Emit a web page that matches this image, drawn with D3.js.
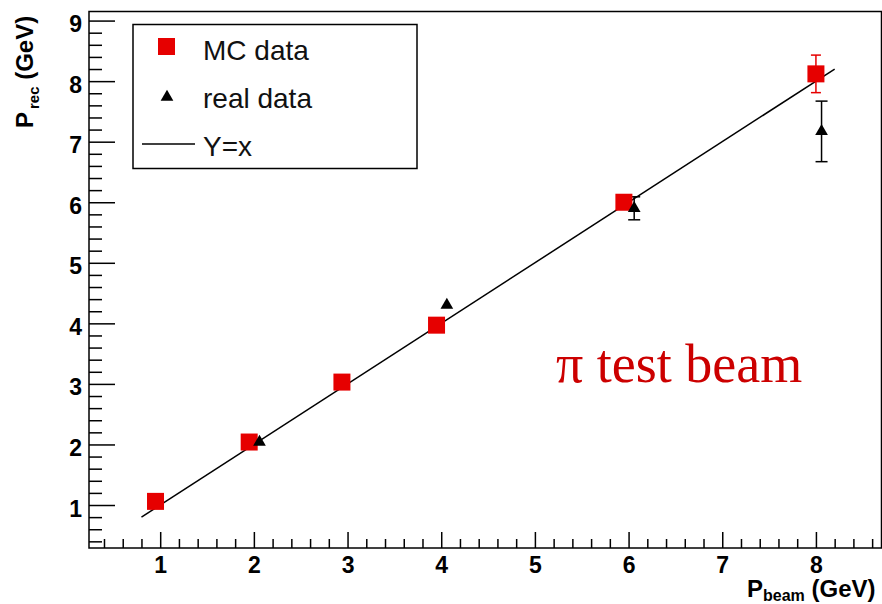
<!DOCTYPE html>
<html>
<head>
<meta charset="utf-8">
<script src="https://cdn.jsdelivr.net/npm/d3@7"></script>
<style>
  body { margin: 0; background: #fff; }
  svg { display: block; }
</style>
</head>
<body>
<div id="app"></div>
<script>
// MC data (red squares)
const mcBeam = [0.95, 1.95, 2.94, 3.95, 5.95, 8.0];
const mcRec = [1.06, 2.04, 3.03, 3.97, 6.0, 8.12];
const mcErr = [0.05, 0.06, 0.07, 0.08, 0.12, 0.31];

// real data (black triangles)
const realBeam = [2.06, 4.06, 6.06, 8.06];
const realRec = [2.04, 4.3, 5.9, 7.17];
const realErr = [0.02, 0.02, 0.19, 0.5];

// Y = x reference line
const lineRange = [0.8, 8.2];

const xTickValues = [1, 2, 3, 4, 5, 6, 7, 8];
const yTickValues = [1, 2, 3, 4, 5, 6, 7, 8, 9];

const W = 882, H = 604;
const plotLeft = 89, plotRight = 881.5, plotTop = 11.5, plotBottom = 548;

const svg = d3.select('#app')
  .append('svg')
  .attr('width', W)
  .attr('height', H);

const x = d3.scaleLinear().domain([0.24, 8.7]).range([plotLeft, plotRight]);
const y = d3.scaleLinear().domain([0.29, 9.15]).range([plotBottom, plotTop]);

const sans = '"Liberation Sans", Arial, Helvetica, sans-serif';

// frame
svg.append('rect')
  .attr('x', plotLeft).attr('y', plotTop)
  .attr('width', plotRight - plotLeft).attr('height', plotBottom - plotTop)
  .attr('fill', 'none').attr('stroke', '#000').attr('stroke-width', 1.5);

// minor ticks
const xMinor = d3.range(0.4, 8.7, 0.2).filter((v) => Math.abs(v - Math.round(v)) > 0.01);
const yMinor = d3.range(0.4, 9.1, 0.2).filter((v) => Math.abs(v - Math.round(v)) > 0.01);

const styleAxis = (g) => {
  g.select('.domain').remove();
  g.selectAll('.tick line').attr('stroke', '#000').attr('stroke-width', 1.5);
};

svg.append('g')
  .attr('transform', `translate(0,${plotBottom})`)
  .call(d3.axisBottom(x).tickValues(xMinor).tickSize(-9).tickFormat(''))
  .call(styleAxis);

svg.append('g')
  .attr('transform', `translate(${plotLeft},0)`)
  .call(d3.axisLeft(y).tickValues(yMinor).tickSize(-13).tickFormat(''))
  .call(styleAxis);

// major ticks + labels
svg.append('g')
  .attr('transform', `translate(0,${plotBottom})`)
  .call(d3.axisBottom(x).tickValues(xTickValues).tickSize(-16).tickPadding(0).tickFormat(d3.format('d')))
  .call(styleAxis)
  .call((g) => g.selectAll('.tick text')
    .attr('y', 25)
    .attr('dy', 0)
    .attr('font-family', sans)
    .attr('font-weight', 'bold')
    .attr('font-size', 23)
    .attr('fill', '#000'));

svg.append('g')
  .attr('transform', `translate(${plotLeft},0)`)
  .call(d3.axisLeft(y).tickValues(yTickValues).tickSize(-26).tickPadding(0).tickFormat(d3.format('d')))
  .call(styleAxis)
  .call((g) => g.selectAll('.tick text')
    .attr('x', -7)
    .attr('dy', 11)
    .attr('font-family', sans)
    .attr('font-weight', 'bold')
    .attr('font-size', 23)
    .attr('fill', '#000'));

// axis titles
const xTitle = svg.append('text')
  .attr('x', 747).attr('y', 597)
  .attr('font-family', sans).attr('font-weight', 'bold')
  .attr('font-size', 24).attr('fill', '#000');
xTitle.append('tspan').text('P');
xTitle.append('tspan').attr('font-size', 16).attr('dy', 4).text('beam');
xTitle.append('tspan').attr('dy', -4).text(' (GeV)');

const yTitle = svg.append('text')
  .attr('transform', 'translate(33,128) rotate(-90)')
  .attr('font-family', sans).attr('font-weight', 'bold')
  .attr('font-size', 24).attr('fill', '#000');
yTitle.append('tspan').text('P');
yTitle.append('tspan').attr('font-size', 15).attr('dy', 6).attr('dx', 3).text('rec');
yTitle.append('tspan').attr('dy', -6).text(' (GeV)');

// Y = x line
svg.append('line')
  .attr('x1', x(lineRange[0])).attr('y1', y(lineRange[0]))
  .attr('x2', x(lineRange[1])).attr('y2', y(lineRange[1]))
  .attr('stroke', '#000').attr('stroke-width', 1.5);

const mc = mcBeam.map((b, i) => ({ b, r: mcRec[i], e: mcErr[i] }));
const real = realBeam.map((b, i) => ({ b, r: realRec[i], e: realErr[i] }));

// error bars only where they stick out of the marker
const drawErrors = (data, color, cap, minPx) => {
  const shown = data.filter((d) => y(d.r - d.e) - y(d.r) > minPx);
  const g = svg.append('g').attr('stroke', color).attr('stroke-width', 1.5);
  g.selectAll('line.bar').data(shown).join('line').attr('class', 'bar')
    .attr('x1', (d) => x(d.b)).attr('x2', (d) => x(d.b))
    .attr('y1', (d) => y(d.r - d.e)).attr('y2', (d) => y(d.r + d.e));
  g.selectAll('line.lo').data(shown).join('line').attr('class', 'lo')
    .attr('x1', (d) => x(d.b) - cap).attr('x2', (d) => x(d.b) + cap)
    .attr('y1', (d) => y(d.r - d.e)).attr('y2', (d) => y(d.r - d.e));
  g.selectAll('line.hi').data(shown).join('line').attr('class', 'hi')
    .attr('x1', (d) => x(d.b) - cap).attr('x2', (d) => x(d.b) + cap)
    .attr('y1', (d) => y(d.r + d.e)).attr('y2', (d) => y(d.r + d.e));
};

const red = '#e60000';
const tri = d3.symbol().type(d3.symbolTriangle).size(70);

drawErrors(mc, red, 5, 8.5);
drawErrors(real, '#000', 6, 6);

svg.append('g').selectAll('rect').data(mc).join('rect')
  .attr('x', (d) => x(d.b) - 8.5).attr('y', (d) => y(d.r) - 8.5)
  .attr('width', 17).attr('height', 17)
  .attr('fill', red);

svg.append('g').selectAll('path').data(real).join('path')
  .attr('transform', (d) => `translate(${x(d.b)},${y(d.r)})`)
  .attr('d', tri)
  .attr('fill', '#000');

// legend
const legend = svg.append('g');
legend.append('rect')
  .attr('x', 133).attr('y', 24.5).attr('width', 284).attr('height', 144)
  .attr('fill', '#fff').attr('stroke', '#000').attr('stroke-width', 1.5);
legend.append('rect')
  .attr('x', 158).attr('y', 38).attr('width', 17).attr('height', 17).attr('fill', red);
legend.append('path')
  .attr('transform', 'translate(167,97)').attr('d', tri).attr('fill', '#000');
legend.append('line')
  .attr('x1', 142).attr('x2', 195).attr('y1', 144).attr('y2', 144)
  .attr('stroke', '#000').attr('stroke-width', 1.5);
const legendLabels = ['MC data', 'real data', 'Y=x'];
legend.selectAll('text.lbl').data(legendLabels).join('text').attr('class', 'lbl')
  .attr('x', 203).attr('y', (d, i) => 60 + i * 48)
  .attr('font-family', sans).attr('font-size', 28).attr('fill', '#111')
  .text((d) => d);

// annotation
svg.append('text')
  .attr('x', 556).attr('y', 382)
  .attr('font-family', '"Liberation Serif", "Times New Roman", serif')
  .attr('font-size', 54).attr('fill', '#cc0000')
  .text('π test beam');
</script>
</body>
</html>
